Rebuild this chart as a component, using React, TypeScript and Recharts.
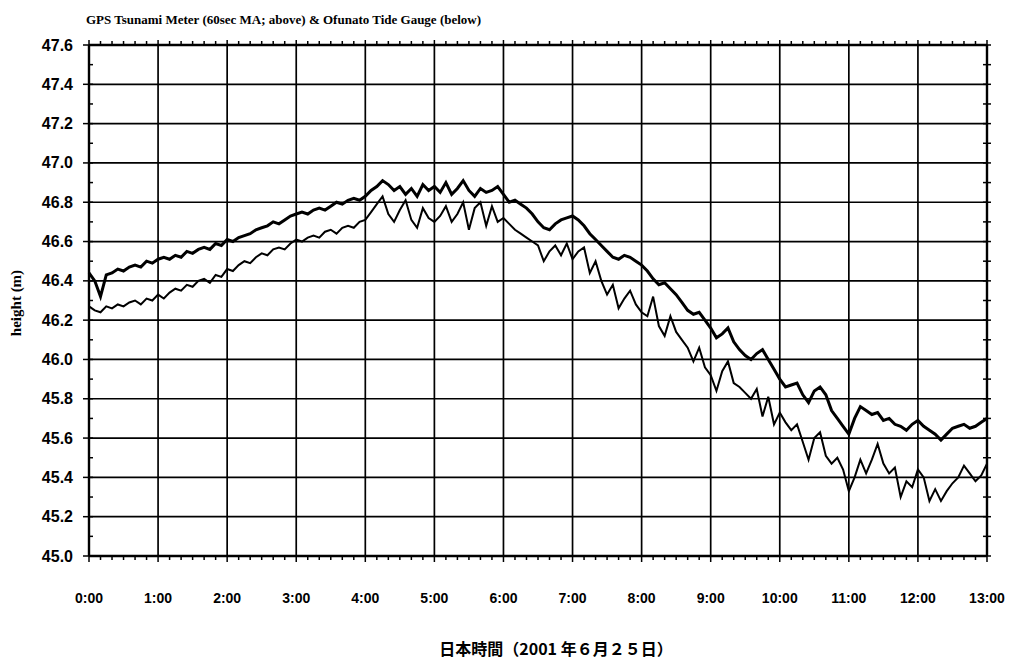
import { LineChart, Line, XAxis, YAxis, ReferenceLine } from "recharts";

// one sample every 5 minutes, 0:00 -> 13:00
const STEP_MIN = 5;

// GPS tsunami meter, 60 sec moving average (upper trace)
const GPS_HEIGHT = [
  46.44, 46.4, 46.32, 46.43, 46.44, 46.46, 46.45, 46.47, 46.48, 46.47, 46.5, 46.49,
  46.51, 46.52, 46.51, 46.53, 46.52, 46.55, 46.54, 46.56, 46.57, 46.56, 46.59, 46.58,
  46.61, 46.6, 46.62, 46.63, 46.64, 46.66, 46.67, 46.68, 46.7, 46.69, 46.71, 46.73,
  46.74, 46.75, 46.74, 46.76, 46.77, 46.76, 46.78, 46.8, 46.79, 46.81, 46.82, 46.81,
  46.83, 46.86, 46.88, 46.91, 46.89, 46.86, 46.88, 46.84, 46.87, 46.83, 46.89, 46.86,
  46.88, 46.85, 46.9, 46.84, 46.87, 46.91, 46.86, 46.83, 46.87, 46.85, 46.86, 46.88,
  46.84, 46.8, 46.81, 46.79, 46.77, 46.74, 46.7, 46.67, 46.66, 46.69, 46.71, 46.72,
  46.73, 46.71, 46.68, 46.64, 46.61, 46.58, 46.55, 46.52, 46.51, 46.53, 46.52, 46.5,
  46.48, 46.45, 46.41, 46.38, 46.39, 46.36, 46.33, 46.29, 46.25, 46.23, 46.24, 46.2,
  46.16, 46.11, 46.13, 46.16, 46.09, 46.05, 46.02, 46.0, 46.03, 46.05, 46.0, 45.95,
  45.9, 45.86, 45.87, 45.88, 45.82, 45.78, 45.84, 45.86, 45.82, 45.74, 45.7, 45.66,
  45.62, 45.7, 45.76, 45.74, 45.72, 45.73, 45.69, 45.7, 45.67, 45.66, 45.64, 45.67,
  45.69, 45.66, 45.64, 45.62, 45.59, 45.62, 45.65, 45.66, 45.67, 45.65, 45.66, 45.68,
  45.7,
];

// Ofunato tide gauge (lower trace)
const TIDE_HEIGHT = [
  46.27, 46.25, 46.24, 46.27, 46.26, 46.28, 46.27, 46.29, 46.3, 46.28, 46.31, 46.3,
  46.33, 46.31, 46.34, 46.36, 46.35, 46.38, 46.37, 46.4, 46.41, 46.39, 46.43, 46.42,
  46.46, 46.45, 46.48, 46.5, 46.49, 46.52, 46.54, 46.53, 46.56, 46.57, 46.56, 46.59,
  46.61, 46.6, 46.62, 46.63, 46.62, 46.65, 46.66, 46.64, 46.67, 46.68, 46.67, 46.7,
  46.71, 46.75, 46.79, 46.83, 46.74, 46.7, 46.76, 46.81, 46.71, 46.67, 46.77, 46.72,
  46.7, 46.73, 46.78, 46.7, 46.74, 46.8, 46.66, 46.77, 46.8, 46.68, 46.78, 46.7,
  46.72, 46.69, 46.66, 46.64, 46.62, 46.6, 46.58, 46.5, 46.55, 46.58, 46.53, 46.59,
  46.51, 46.55, 46.57, 46.44, 46.5, 46.4, 46.33, 46.38, 46.26, 46.31, 46.35, 46.28,
  46.24, 46.22, 46.32, 46.17, 46.12, 46.22, 46.14, 46.1, 46.06, 45.99, 46.06, 45.96,
  45.92, 45.84, 45.94, 45.99, 45.88, 45.86, 45.83, 45.8, 45.85, 45.71, 45.81, 45.67,
  45.73, 45.68, 45.64, 45.67, 45.58, 45.49, 45.6, 45.63, 45.51, 45.47, 45.5, 45.44,
  45.33, 45.4, 45.49, 45.42, 45.49, 45.57, 45.47, 45.42, 45.45, 45.3, 45.38, 45.35,
  45.44, 45.4, 45.28, 45.34, 45.28, 45.33, 45.37, 45.4, 45.46, 45.42, 45.38, 45.41,
  45.47,
];

const HOUR_LABELS = [
  "0:00", "1:00", "2:00", "3:00", "4:00", "5:00", "6:00",
  "7:00", "8:00", "9:00", "10:00", "11:00", "12:00", "13:00",
];

const Y_TICKS = [
  45.0, 45.1, 45.2, 45.3, 45.4, 45.5, 45.6, 45.7, 45.8, 45.9,
  46.0, 46.1, 46.2, 46.3, 46.4, 46.5, 46.6, 46.7, 46.8, 46.9,
  47.0, 47.1, 47.2, 47.3, 47.4, 47.5, 47.6,
];

const TITLE = "GPS Tsunami Meter (60sec MA; above) & Ofunato Tide Gauge (below)";
const Y_TITLE = "height (m)";
const X_TITLE = "日本時間（2001 年６月２５日）";

const data = GPS_HEIGHT.map((gps, i) => ({ t: i * STEP_MIN, gps, tide: TIDE_HEIGHT[i] }));
const hourTicks = HOUR_LABELS.map((_, i) => i * 60);
const minorTicks = Array.from({ length: HOUR_LABELS.length * 6 - 5 }, (_, i) => i * 10);

const isMajorY = (v: number) => Math.round(v * 10) % 2 === 0;
const yMajor = Y_TICKS.filter(isMajorY);

const tickFont = {
  fontFamily: '"Liberation Sans", Arial, sans-serif',
  fontWeight: 700,
  fill: "#000",
};

function BottomTick({ x, y, payload }: any) {
  const major = payload.value % 60 === 0;
  return (
    <g>
      <line x1={x} x2={x} y1={y} y2={y + (major ? 6 : 4)} stroke="#000" strokeWidth={1.5} />
      {major && (
        <text x={x} y={y + 42} textAnchor="middle" dominantBaseline="central" fontSize={14} {...tickFont}>
          {HOUR_LABELS[payload.value / 60]}
        </text>
      )}
    </g>
  );
}

function TopTick({ x, y, payload }: any) {
  const major = payload.value % 60 === 0;
  return <line x1={x} x2={x} y1={y} y2={y - (major ? 5 : 4)} stroke="#000" strokeWidth={1.5} />;
}

function LeftTick({ x, y, payload }: any) {
  const major = isMajorY(payload.value);
  return (
    <g>
      <line x1={major ? x - 6 : x} x2={x + 4} y1={y} y2={y} stroke="#000" strokeWidth={1.5} />
      {major && (
        <text x={x - 16} y={y} textAnchor="end" dominantBaseline="central" fontSize={16} {...tickFont}>
          {payload.value.toFixed(1)}
        </text>
      )}
    </g>
  );
}

function RightTick({ x, y }: any) {
  return <line x1={x - 4} x2={x + 4} y1={y} y2={y} stroke="#000" strokeWidth={1.5} />;
}

const serif = '"Liberation Serif", "Times New Roman", serif';

export default function App() {
  return (
    <div style={{ position: "absolute", left: 0, top: 0, width: 1016, height: 659, background: "#fff", overflow: "hidden" }}>
      <div
        style={{
          position: "absolute",
          left: 86,
          top: 13,
          fontFamily: serif,
          fontWeight: 700,
          fontSize: 13,
          lineHeight: "14px",
          whiteSpace: "nowrap",
          color: "#000",
        }}
      >
        {TITLE}
      </div>
      <div
        style={{
          position: "absolute",
          left: 16,
          top: 303,
          transform: "translate(-50%, -50%) rotate(-90deg)",
          fontFamily: serif,
          fontWeight: 700,
          fontSize: 15,
          lineHeight: "15px",
          whiteSpace: "nowrap",
          color: "#000",
        }}
      >
        {Y_TITLE}
      </div>
      <div
        style={{
          position: "absolute",
          left: 556,
          top: 640,
          transform: "translateX(-50%)",
          fontFamily: '"Noto Sans CJK JP", sans-serif',
          fontWeight: 700,
          fontSize: 16,
          lineHeight: "17px",
          whiteSpace: "nowrap",
          color: "#000",
        }}
      >
        {X_TITLE}
      </div>
      <LineChart width={1016} height={659} data={data} margin={{ top: 44, right: 28, left: 0, bottom: 0 }}>
        <XAxis
          xAxisId="bottom"
          dataKey="t"
          type="number"
          domain={[0, 780]}
          ticks={minorTicks}
          interval={0}
          height={103}
          tickSize={0}
          tickMargin={0}
          tickLine={false}
          axisLine={{ stroke: "#000", strokeWidth: 2.4 }}
          tick={<BottomTick />}
        />
        <XAxis
          xAxisId="top"
          orientation="top"
          dataKey="t"
          type="number"
          domain={[0, 780]}
          ticks={minorTicks}
          interval={0}
          height={1}
          tickSize={0}
          tickMargin={0}
          tickLine={false}
          axisLine={{ stroke: "#000", strokeWidth: 2.4 }}
          tick={<TopTick />}
        />
        <YAxis
          yAxisId="left"
          type="number"
          domain={[45, 47.6]}
          ticks={Y_TICKS}
          interval={0}
          width={89}
          tickSize={0}
          tickMargin={0}
          tickLine={false}
          allowDataOverflow
          axisLine={{ stroke: "#000", strokeWidth: 2.4 }}
          tick={<LeftTick />}
        />
        <YAxis
          yAxisId="right"
          orientation="right"
          type="number"
          domain={[45, 47.6]}
          ticks={Y_TICKS}
          interval={0}
          width={1}
          tickSize={0}
          tickMargin={0}
          tickLine={false}
          allowDataOverflow
          axisLine={{ stroke: "#000", strokeWidth: 2.4 }}
          tick={<RightTick />}
        />
        {hourTicks.map((h) => (
          <ReferenceLine key={`v${h}`} xAxisId="bottom" yAxisId="left" x={h} stroke="#000" strokeWidth={1.7} />
        ))}
        {yMajor.map((v) => (
          <ReferenceLine key={`h${v}`} xAxisId="bottom" yAxisId="left" y={v} stroke="#000" strokeWidth={1.7} />
        ))}
        <Line
          xAxisId="bottom"
          yAxisId="left"
          type="linear"
          dataKey="gps"
          stroke="#000"
          strokeWidth={3}
          dot={false}
          isAnimationActive={false}
        />
        <Line
          xAxisId="bottom"
          yAxisId="left"
          type="linear"
          dataKey="tide"
          stroke="#000"
          strokeWidth={2}
          dot={false}
          isAnimationActive={false}
        />
      </LineChart>
    </div>
  );
}
